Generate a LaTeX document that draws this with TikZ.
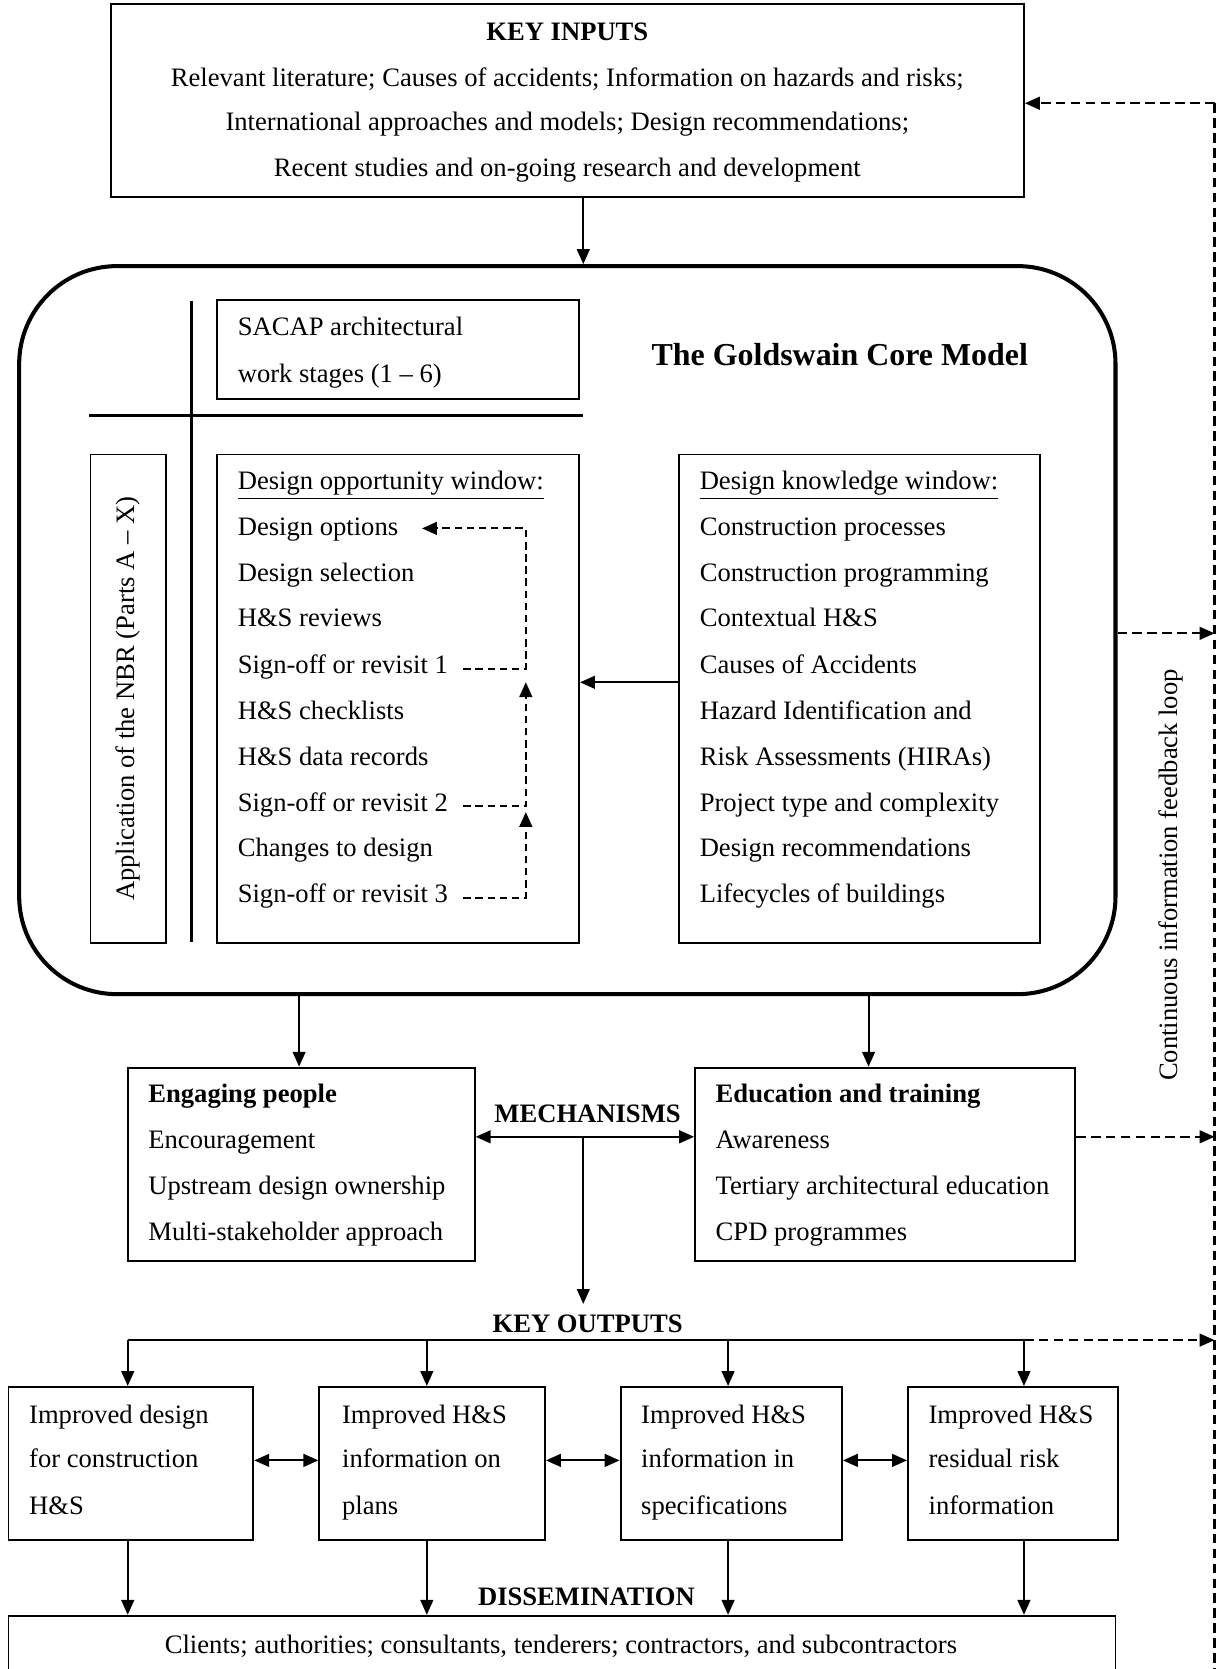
\documentclass[tikz,border=0pt]{standalone}
\usepackage{fontspec}
\setmainfont{Liberation Serif}
\usetikzlibrary{arrows.meta,fit}
\begin{document}
\begin{tikzpicture}[x=0.5pt,y=-0.5pt,
  font=\fontsize{12.5}{15}\selectfont,
  box/.style={draw,line width=0.9pt,inner sep=0pt},
  txt/.style={anchor=base west,inner sep=0pt},
  ctxt/.style={anchor=base,inner sep=0pt},
  btxt/.style={anchor=base,inner sep=0pt,font=\fontsize{12.5}{15}\selectfont\bfseries},
  tip/.style={-{Triangle[length=7pt,width=6pt]}},
  arr/.style={line width=0.9pt,tip},
  darr/.style={line width=0.9pt,{Triangle[length=7pt,width=6pt]}-{Triangle[length=7pt,width=6pt]}},
  fbdash/.style={line width=1pt,dash pattern=on 4.5pt off 2.5pt},
  indash/.style={line width=1pt,dash pattern=on 3.5pt off 2.2pt}]
\useasboundingbox (0,0) rectangle (1143,1568);

% column coordinates
\coordinate (spine) at (548,0);
\coordinate (fbtop) at (1141,97);
\coordinate (fbbot) at (1141,1575);
\coordinate (mline) at (0,1068);
\coordinate (busy) at (0,1259);
\coordinate (rowy) at (0,1372);
\coordinate (c1) at (120,0);
\coordinate (c2) at (401,0);
\coordinate (c3) at (684,0);
\coordinate (c4) at (962,0);
\coordinate (ceng) at (281,0);
\coordinate (cedu) at (816,0);
\coordinate (dashx) at (494,0);

% KEY INPUTS
\node[box,fit={(104,4)(962,185)}] (kin) {};
\node[btxt] (kint) at (533,38) {KEY INPUTS};
\node[ctxt] (kin1) at (533,81) {Relevant literature; Causes of accidents; Information on hazards and risks;};
\node[ctxt] (kin2) at (533,123) {International approaches and models; Design recommendations;};
\node[ctxt] (kin3) at (533,166) {Recent studies and on-going research and development};

% core
\node[draw,line width=1.9pt,inner sep=0pt,rounded corners=46pt,fit={(18,250)(1048,934)}] (core) {};
\node[box,fit={(204,282)(544,375)}] (sacap) {};
\node[txt] at (223,315) {SACAP architectural};
\node[txt] at (223,359) {work stages (1 -- 6)};
\node[anchor=base,inner sep=0pt,font=\fontsize{15}{18}\selectfont\bfseries] (title) at (789,343) {The Goldswain Core Model};
\coordinate (vtop) at (180,283);
\coordinate (vbot) at (180,885);
\coordinate (hl) at (84,390);
\coordinate (hr) at (548,390);
\draw[line width=1.3pt] (vtop) -- (vbot);
\draw[line width=1.3pt] (hl) -- (hr);

\node[box,fit={(85,427)(156,886)}] (nbr) {};
\node[rotate=90,inner sep=0pt] at (nbr.center) {Application of the NBR (Parts A -- X)};

\node[box,fit={(204,427)(544,886)}] (dow) {};
\node[txt] at (223,460) {\underline{Design opportunity window:}};
\node[txt] (dopt) at (223,503) {Design options};
\node[txt] at (223,546) {Design selection};
\node[txt] at (223,589) {H\&S reviews};
\node[txt] (so1) at (223,633) {Sign-off or revisit 1};
\node[txt] at (223,676) {H\&S checklists};
\node[txt] at (223,719) {H\&S data records};
\node[txt] (so2) at (223,762) {Sign-off or revisit 2};
\node[txt] at (223,805) {Changes to design};
\node[txt] (so3) at (223,848) {Sign-off or revisit 3};

\node[box,fit={(638,427)(977,886)}] (dkw) {};
\node[txt] at (657,460) {\underline{Design knowledge window:}};
\node[txt] at (657,503) {Construction processes};
\node[txt] at (657,546) {Construction programming};
\node[txt] at (657,589) {Contextual H\&S};
\node[txt] at (657,633) {Causes of Accidents};
\node[txt] at (657,676) {Hazard Identification and};
\node[txt] at (657,719) {Risk Assessments (HIRAs)};
\node[txt] at (657,762) {Project type and complexity};
\node[txt] at (657,805) {Design recommendations};
\node[txt] at (657,848) {Lifecycles of buildings};

% inner dashed arrows
\draw[indash,tip] ([xshift=7pt,yshift=-0.8pt]so1.east) -- ([yshift=-0.8pt]so1.east -| dashx) -- ([yshift=0.5pt]dashx |- dopt.east) -- ([xshift=11pt,yshift=0.5pt]dopt.east);
\draw[indash,tip] ([xshift=7pt,yshift=-0.8pt]so2.east) -- ([yshift=-0.8pt]so2.east -| dashx) -- ([yshift=-7pt]dashx |- so1.east);
\draw[indash,tip] ([xshift=7pt,yshift=-0.8pt]so3.east) -- ([yshift=-0.8pt]so3.east -| dashx) -- ([yshift=-3.5pt]dashx |- so2.east);
\draw[arr] (dkw.west |- 0,641) -- (dow.east |- 0,641);

% top arrow
\draw[arr] (kin.south -| spine) -- (core.north -| spine);

% feedback loop
\draw[fbdash] (fbtop) -- (fbbot);
\draw[fbdash,tip] (fbtop) -- (kin.east |- fbtop);
\draw[fbdash,tip] (core.east |- 0,595) -- (fbtop |- 0,595);
\node[rotate=90,inner sep=0pt] (fbt) at (1100,822) {Continuous information feedback loop};

% mechanisms
\node[box,fit={(120,1003)(446,1185)}] (eng) {};
\node[txt,font=\fontsize{12.5}{15}\selectfont\bfseries] at (139,1036) {Engaging people};
\node[txt] at (139,1079) {Encouragement};
\node[txt] at (139,1122) {Upstream design ownership};
\node[txt] at (139,1165) {Multi-stakeholder approach};
\node[box,fit={(653,1003)(1010,1185)}] (edu) {};
\node[txt,font=\fontsize{12.5}{15}\selectfont\bfseries] at (672,1036) {Education and training};
\node[txt] at (672,1079) {Awareness};
\node[txt] at (672,1122) {Tertiary architectural education};
\node[txt] at (672,1165) {CPD programmes};
\node[btxt] (mech) at (552,1055) {MECHANISMS};

\draw[arr] (core.south -| ceng) -- (eng.north -| ceng);
\draw[arr] (core.south -| cedu) -- (edu.north -| cedu);
\draw[darr] (eng.east |- mline) -- (edu.west |- mline);
\coordinate (koarr) at (548,1225);
\draw[arr] (spine |- mline) -- (koarr);
\draw[fbdash,tip] (edu.east |- mline) -- (fbtop |- mline);

% key outputs
\node[btxt] (ko) at (552,1252) {KEY OUTPUTS};
\draw[line width=0.9pt] (c1 |- busy) -- (c4 |- busy);
\draw[fbdash,tip] (c4 |- busy) -- (fbtop |- busy);

\node[box,fit={(8,1303)(238,1447)}] (o1) {};
\node[box,fit={(300,1303)(512,1447)}] (o2) {};
\node[box,fit={(583,1303)(791,1447)}] (o3) {};
\node[box,fit={(853,1303)(1050,1447)}] (o4) {};
\node[txt] at (27,1337) {Improved design};
\node[txt] at (27,1379) {for construction};
\node[txt] at (27,1423) {H\&S};
\node[txt] at (321,1337) {Improved H\&S};
\node[txt] at (321,1379) {information on};
\node[txt] at (321,1423) {plans};
\node[txt] at (602,1337) {Improved H\&S};
\node[txt] at (602,1379) {information in};
\node[txt] at (602,1423) {specifications};
\node[txt] at (872,1337) {Improved H\&S};
\node[txt] at (872,1379) {residual risk};
\node[txt] at (872,1423) {information};

\foreach \c/\o in {c1/o1,c2/o2,c3/o3,c4/o4}{
  \draw[arr] (\c |- busy) -- (\c |- \o.north);
}
\draw[darr] (o1.east |- rowy) -- (o2.west |- rowy);
\draw[darr] (o2.east |- rowy) -- (o3.west |- rowy);
\draw[darr] (o3.east |- rowy) -- (o4.west |- rowy);

% dissemination
\node[box,fit={(8,1518)(1048,1580)}] (diss) {};
\node[btxt] (disst) at (551,1508) {DISSEMINATION};
\node[ctxt] at (527,1553) {Clients; authorities; consultants, tenderers; contractors, and subcontractors};
\foreach \c/\o in {c1/o1,c2/o2,c3/o3,c4/o4}{
  \draw[arr] (\c |- \o.south) -- (\c |- diss.north);
}
\end{tikzpicture}
\end{document}
